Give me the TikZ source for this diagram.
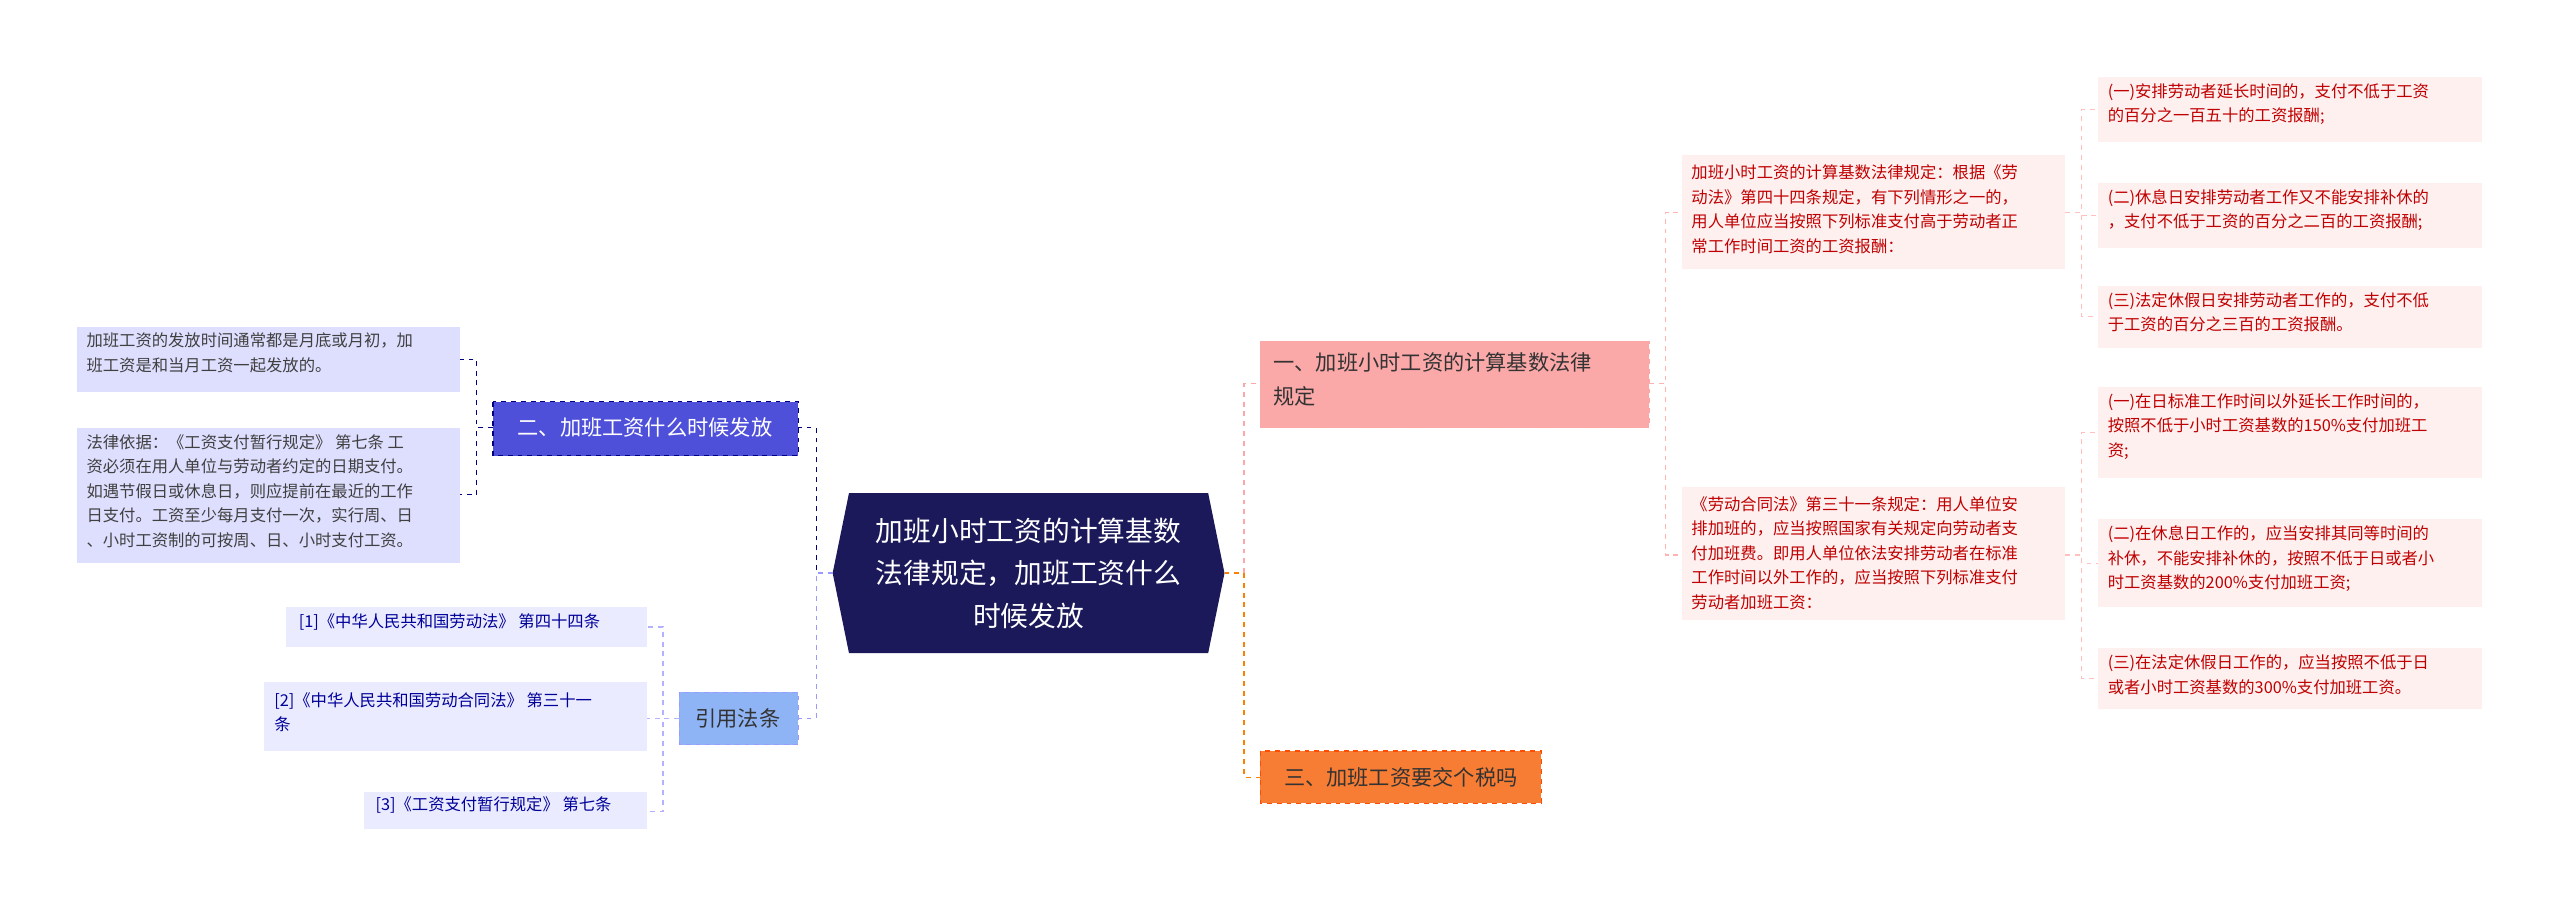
\documentclass[tikz,border=0pt]{standalone}
\usepackage{fontspec}
\setmainfont{Noto Sans CJK SC}
\begin{document}
\begin{tikzpicture}[x=1pt,y=-1pt,
 base/.style={inner sep=0pt,outer sep=0pt,align=left,anchor=north west},
 leafR/.style={base,fill=red!6,text=red!75!black,font=\fontsize{10}{15}\selectfont},
 leafL/.style={base,fill=blue!13,text=black!75,font=\fontsize{10}{15}\selectfont},
 leafB/.style={base,fill=blue!8,text=blue!60!black,font=\fontsize{10}{15}\selectfont},
 lk/.style={dashed,line width=0.8pt}]
\path[use as bounding box] (0,0) rectangle (1568,557);
% center
\fill[fill={rgb,255:red,27;green,25;blue,90}] (510,351)--(520,302)--(740,302)--(750,351)--(740,400)--(520,400)--cycle;
\node[align=center,text=white,font=\fontsize{17}{26}\selectfont] (c) at (630,351) {加班小时工资的计算基数\\法律规定，加班工资什么\\时候发放};
\coordinate (cE) at (750,351); \coordinate (cW) at (510,351);
% level 1
\fill[fill={rgb,255:red,250;green,168;blue,168}] (772,209) rectangle (1010,262);
\draw[lk,red!35] (772,209) rectangle (1010,262);
\node[base,font=\fontsize{13}{21}\selectfont,text=black!80] (b1) at (780,216) {一、加班小时工资的计算基数法律\\规定};
\coordinate (b1W) at (772,235); \coordinate (b1E) at (1010,235);
\fill[fill={rgb,255:red,247;green,124;blue,52}] (772,460) rectangle (944,492);
\draw[lk,orange!60!red] (772,460) rectangle (944,492);
\node[font=\fontsize{13}{18}\selectfont,text=black!80] (b3) at (858,476) {三、加班工资要交个税吗};
\coordinate (b3W) at (772,476);
\fill[fill={rgb,255:red,79;green,80;blue,218}] (302,246) rectangle (489,279);
\draw[lk,blue!50!black] (302,246) rectangle (489,279);
\node[font=\fontsize{13}{18}\selectfont,text=white] (b2) at (395,262) {二、加班工资什么时候发放};
\coordinate (b2E) at (489,262); \coordinate (b2W) at (302,262);
\fill[fill={rgb,255:red,143;green,180;blue,245}] (416,424) rectangle (489,456);
\draw[lk,blue!40] (416,424) rectangle (489,456);
\node[font=\fontsize{13}{18}\selectfont,text=black!80] (b4) at (452,440) {引用法条};
\coordinate (b4E) at (489,440); \coordinate (b4W) at (416,440);
% right level2
\fill[red!6] (1030,95) rectangle (1265,165);
\node[base,text=red!75!black,font=\fontsize{10}{15}\selectfont] (r1) at (1036,101) {加班小时工资的计算基数法律规定：根据《劳\\动法》第四十四条规定，有下列情形之一的，\\用人单位应当按照下列标准支付高于劳动者正\\常工作时间工资的工资报酬：};
\coordinate (r1W) at (1030,130); \coordinate (r1E) at (1265,130);
\fill[red!6] (1030,298) rectangle (1265,380);
\node[base,text=red!75!black,font=\fontsize{10}{15}\selectfont] (r2) at (1036,304) {《劳动合同法》第三十一条规定：用人单位安\\排加班的，应当按照国家有关规定向劳动者支\\付加班费。即用人单位依法安排劳动者在标准\\工作时间以外工作的，应当按照下列标准支付\\劳动者加班工资：};
\coordinate (r2W) at (1030,340); \coordinate (r2E) at (1265,340);
% right level3
\foreach \n/\ya/\yb/\t in {
 a/47/87/{(一)安排劳动者延长时间的，支付不低于工资\\的百分之一百五十的工资报酬;},
 b/112/152/{(二)休息日安排劳动者工作又不能安排补休的\\，支付不低于工资的百分之二百的工资报酬;},
 d/175/213/{(三)法定休假日安排劳动者工作的，支付不低\\于工资的百分之三百的工资报酬。},
 e/237/293/{(一)在日标准工作时间以外延长工作时间的，\\按照不低于小时工资基数的150\%支付加班工\\资;},
 f/318/372/{(二)在休息日工作的，应当安排其同等时间的\\补休，不能安排补休的，按照不低于日或者小\\时工资基数的200\%支付加班工资;},
 g/397/434/{(三)在法定休假日工作的，应当按照不低于日\\或者小时工资基数的300\%支付加班工资。}}{
 \fill[red!6] (1285,\ya) rectangle (1520,\yb);
 \node[base,text=red!75!black,font=\fontsize{10}{15}\selectfont] (l\n) at (1291,\ya+4) {\t};
 \coordinate (l\n W) at (1285,{(\ya+\yb)/2});
}
% left level3
\fill[blue!13] (47,200) rectangle (282,240);
\node[leafL] (p1) at (53,204) {加班工资的发放时间通常都是月底或月初，加\\班工资是和当月工资一起发放的。};
\coordinate (p1E) at (282,220);
\fill[blue!13] (47,262) rectangle (282,345);
\node[leafL] (p2) at (53,266) {法律依据：《工资支付暂行规定》 第七条 工\\资必须在用人单位与劳动者约定的日期支付。\\如遇节假日或休息日，则应提前在最近的工作\\日支付。工资至少每月支付一次，实行周、日\\、小时工资制的可按周、日、小时支付工资。};
\coordinate (p2E) at (282,303);
\fill[blue!8] (175,372) rectangle (396,396);
\node[leafB] (q1) at (183,376) {[1]《中华人民共和国劳动法》 第四十四条};
\coordinate (q1E) at (396,384);
\fill[blue!8] (162,418) rectangle (396,460);
\node[leafB] (q2) at (168,424) {[2]《中华人民共和国劳动合同法》 第三十一\\条};
\coordinate (q2E) at (396,440);
\fill[blue!8] (223,485) rectangle (396,508);
\node[leafB] (q3) at (230,488) {[3]《工资支付暂行规定》 第七条};
\coordinate (q3E) at (396,497);
% connectors
\draw[lk,red!35] (cE) -| ([xshift=-10pt]b1W) -- (b1W);
\draw[lk,orange] (cE) -| ([xshift=-10pt]b3W) -- (b3W);
\draw[lk,blue!50!black] (cW) -| ([xshift=11pt]b2E) -- (b2E);
\draw[lk,blue!40] (cW) -| ([xshift=11pt]b4E) -- (b4E);
\draw[lk,red!30] (b1E) -| ([xshift=-10pt]r1W) -- (r1W);
\draw[lk,red!30] (b1E) -| ([xshift=-10pt]r2W) -- (r2W);
\foreach \n in {a,b,d}{\draw[lk,red!25] (r1E) -| ([xshift=-10pt]l\n W) -- (l\n W);}
\foreach \n in {e,f,g}{\draw[lk,red!25] (r2E) -| ([xshift=-10pt]l\n W) -- (l\n W);}
\draw[lk,blue!50!black] (b2W) -| ([xshift=10pt]p1E) -- (p1E);
\draw[lk,blue!50!black] (b2W) -| ([xshift=10pt]p2E) -- (p2E);
\foreach \n in {q1E,q2E,q3E}{\draw[lk,blue!30] (b4W) -| ([xshift=10pt]\n) -- (\n);}
\end{tikzpicture}
\end{document}
